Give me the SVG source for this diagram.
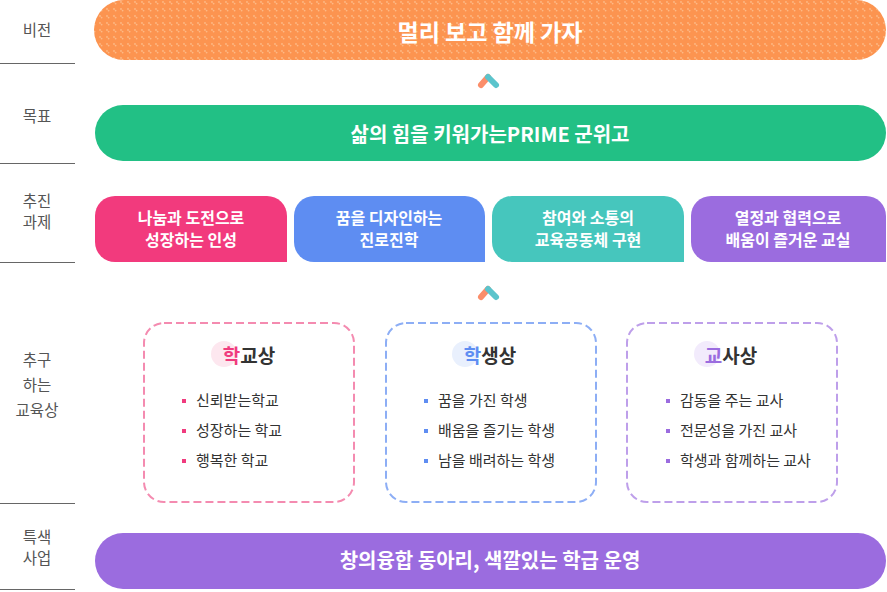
<svg xmlns="http://www.w3.org/2000/svg" width="887" height="592" viewBox="0 0 887 592">
<defs>
<pattern id="dots" width="7" height="7" patternUnits="userSpaceOnUse">
<rect width="7" height="7" fill="#FC9450"/>
<circle cx="2" cy="2" r="0.9" fill="#FDB985"/>
<circle cx="3.6" cy="3.6" r="0.9" fill="#FDB985"/>
</pattern>
</defs>
<style>
.lbl{font-family:"Noto Sans CJK KR","Noto Sans",sans-serif;font-size:15.5px;fill:#555;text-anchor:middle}
.sep{stroke:#666;stroke-width:1}
.ban{font-family:"Noto Sans CJK KR","Noto Sans",sans-serif;font-weight:bold;fill:#fff;text-anchor:middle}
.card{font-family:"Noto Sans CJK KR","Noto Sans",sans-serif;font-weight:bold;font-size:16px;fill:#fff;text-anchor:middle}
.ttl{font-family:"Noto Sans CJK KR","Noto Sans",sans-serif;font-weight:bold;font-size:19px;fill:#333;text-anchor:middle}
.itm{font-family:"Noto Sans CJK KR","Noto Sans",sans-serif;font-size:15px;fill:#333}
.box{fill:#fff;stroke-width:2;stroke-dasharray:8 4}
.chev{fill:none;stroke-width:6;stroke-linecap:round}
</style>

<g id="labels">
<text class="lbl" x="37" y="36">비전</text>
<line class="sep" x1="0" y1="63.5" x2="75" y2="63.5"/>
<text class="lbl" x="37" y="122">목표</text>
<line class="sep" x1="0" y1="163.5" x2="75" y2="163.5"/>
<text class="lbl" x="37" y="207">추진</text>
<text class="lbl" x="37" y="228">과제</text>
<line class="sep" x1="0" y1="262.5" x2="75" y2="262.5"/>
<text class="lbl" x="37" y="366">추구</text>
<text class="lbl" x="37" y="391">하는</text>
<text class="lbl" x="37" y="416">교육상</text>
<line class="sep" x1="0" y1="503.5" x2="75" y2="503.5"/>
<text class="lbl" x="37" y="543">특색</text>
<text class="lbl" x="37" y="564">사업</text>
<line class="sep" x1="0" y1="589.5" x2="75" y2="589.5"/>
</g>

<g id="vision">
<rect x="94" y="0" width="792" height="60" rx="30" fill="url(#dots)"/>
<text class="ban" x="490" y="41" font-size="23">멀리 보고 함께 가자</text>
</g>

<g id="goal">
<rect x="95" y="105" width="791" height="56" rx="28" fill="#22C085"/>
<text class="ban" x="490" y="142" font-size="20">삶의 힘을 키워가는PRIME 군위고</text>
</g>

<g id="task1">
<path d="M115,196 H267 A20,20 0 0 1 287,216 V262 H115 A20,20 0 0 1 95,242 V216 A20,20 0 0 1 115,196 Z" fill="#F23A7D"/>
<text class="card" x="191" y="224">나눔과 도전으로</text>
<text class="card" x="191" y="246">성장하는 인성</text>
</g>
<g id="task2">
<path d="M314,196 H465 A20,20 0 0 1 485,216 V262 H314 A20,20 0 0 1 294,242 V216 A20,20 0 0 1 314,196 Z" fill="#5E8DF2"/>
<text class="card" x="389" y="224">꿈을 디자인하는</text>
<text class="card" x="389" y="246">진로진학</text>
</g>
<g id="task3">
<path d="M512,196 H664 A20,20 0 0 1 684,216 V262 H512 A20,20 0 0 1 492,242 V216 A20,20 0 0 1 512,196 Z" fill="#46C6BD"/>
<text class="card" x="588" y="224">참여와 소통의</text>
<text class="card" x="588" y="246">교육공동체 구현</text>
</g>
<g id="task4">
<path d="M711,196 H866 A20,20 0 0 1 886,216 V262 H711 A20,20 0 0 1 691,242 V216 A20,20 0 0 1 711,196 Z" fill="#9B6CDF"/>
<text class="card" x="788" y="224">열정과 협력으로</text>
<text class="card" x="788" y="246">배움이 즐거운 교실</text>
</g>

<g id="school">
<rect class="box" x="144" y="323" width="210" height="179" rx="20" stroke="#F48BB0"/>
<circle cx="224" cy="354" r="13" fill="#FDE7EF"/>
<text class="ttl" x="249" y="363"><tspan fill="#F03B7E">학</tspan>교상</text>
<rect x="182" y="399" width="4" height="4" fill="#F03B7E"/>
<rect x="182" y="429" width="4" height="4" fill="#F03B7E"/>
<rect x="182" y="459" width="4" height="4" fill="#F03B7E"/>
<text class="itm" x="196" y="406">신뢰받는학교</text>
<text class="itm" x="196" y="436">성장하는 학교</text>
<text class="itm" x="196" y="466">행복한 학교</text>
</g>

<g id="student">
<rect class="box" x="386" y="323" width="210" height="179" rx="20" stroke="#8DAEF5"/>
<circle cx="465" cy="354" r="13" fill="#E9F0FD"/>
<text class="ttl" x="490" y="363"><tspan fill="#5E8DF2">학</tspan>생상</text>
<rect x="424" y="399" width="4" height="4" fill="#5E8DF2"/>
<rect x="424" y="429" width="4" height="4" fill="#5E8DF2"/>
<rect x="424" y="459" width="4" height="4" fill="#5E8DF2"/>
<text class="itm" x="438" y="406">꿈을 가진 학생</text>
<text class="itm" x="438" y="436">배움을 즐기는 학생</text>
<text class="itm" x="438" y="466">남을 배려하는 학생</text>
</g>

<g id="teacher">
<rect class="box" x="627" y="323" width="210" height="179" rx="20" stroke="#BE9FEA"/>
<circle cx="707" cy="354" r="13" fill="#F2EBFC"/>
<text class="ttl" x="731" y="363"><tspan fill="#9B6CDF">교</tspan>사상</text>
<rect x="666" y="399" width="4" height="4" fill="#9B6CDF"/>
<rect x="666" y="429" width="4" height="4" fill="#9B6CDF"/>
<rect x="666" y="459" width="4" height="4" fill="#9B6CDF"/>
<text class="itm" x="680" y="406">감동을 주는 교사</text>
<text class="itm" x="680" y="436">전문성을 가진 교사</text>
<text class="itm" x="680" y="466">학생과 함께하는 교사</text>
</g>

<g id="feature">
<rect x="95" y="533" width="791" height="56" rx="28" fill="#9B6CDF"/>
<text class="ban" x="490" y="568" font-size="20">창의융합 동아리, 색깔있는 학급 운영</text>
</g>

<g id="connectors">
<line class="chev" x1="481" y1="85" x2="488" y2="77" stroke="#FB8E6A"/>
<line class="chev" x1="488" y1="77" x2="496" y2="85" stroke="#5BC4CC"/>
<line class="chev" x1="481" y1="297" x2="488" y2="289" stroke="#FB8E6A"/>
<line class="chev" x1="488" y1="289" x2="496" y2="297" stroke="#5BC4CC"/>
</g>
</svg>
